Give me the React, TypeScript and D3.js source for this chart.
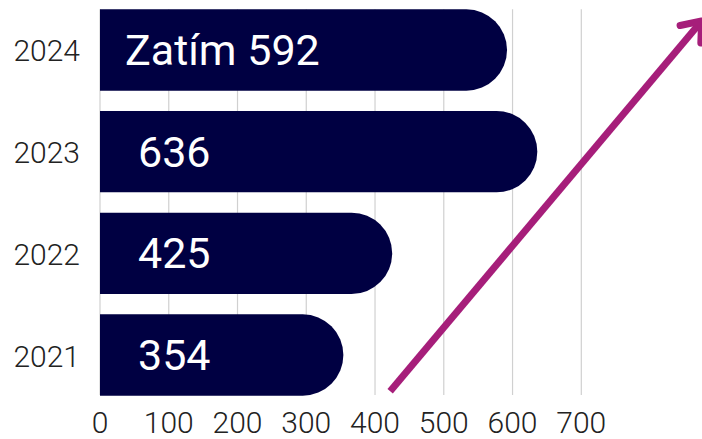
import React from "react";
import * as d3 from "d3";

const years = ["2024", "2023", "2022", "2021"];
const values = [592, 636, 425, 354];
const labels = ["Zatím 592", "636", "425", "354"];
const xTicks = [0, 100, 200, 300, 400, 500, 600, 700];
// arrow annotation in data units (x) : start / end value
const arrowFrom = 422;
const arrowTo = 875;

const W = 702;
const H = 439;
const M = { left: 100, right: W - 581.3, top: 9.3, bottom: H - 395.7 };

export default function App() {
  const x = d3.scaleLinear().domain([0, 700]).range([M.left, W - M.right]);
  const y = d3
    .scaleBand<string>()
    .domain(years)
    .range([M.top, H - M.bottom])
    .paddingInner(0.2)
    .paddingOuter(0);
  const bh = y.bandwidth();
  const r = bh / 2;

  const barPath = (v: number, yr: string) => {
    const x0 = x(0);
    const x1 = x(v);
    const y0 = y(yr)!;
    const y1 = y0 + bh;
    return `M${x0},${y0}H${x1 - r}A${r},${r} 0 0 1 ${x1 - r},${y1}H${x0}Z`;
  };

  // arrow geometry
  const ax0 = x(arrowFrom);
  const ay0 = H - M.bottom - 4.5;
  const ax1 = x(arrowTo);
  const ay1 = 21;
  const ang = Math.atan2(ay0 - ay1, ax0 - ax1);
  const headLen = 22;
  const spread = (38 * Math.PI) / 180;
  const h1 = [ax1 + headLen * Math.cos(ang - spread), ay1 + headLen * Math.sin(ang - spread)];
  const h2 = [ax1 + headLen * Math.cos(ang + spread), ay1 + headLen * Math.sin(ang + spread)];
  const arrowColor = "#a61e7a";

  return (
    <svg
      width={W}
      height={H}
      style={{ position: "absolute", left: 0, top: 0, background: "#fff" }}
    >
      {xTicks.map((t) => (
        <line
          key={"g" + t}
          x1={x(t)}
          x2={x(t)}
          y1={M.top}
          y2={H - M.bottom - 0.7}
          stroke="#d0d0d0"
          strokeWidth={1.2}
        />
      ))}
      {years.map((yr, i) => (
        <path key={"b" + yr} d={barPath(values[i], yr)} fill="#000042" />
      ))}
      {years.map((yr, i) => (
        <text
          key={"l" + yr}
          x={x(0) + (i === 0 ? 25 : 38)}
          y={y(yr)! + bh / 2 + 15}
          fill="#ffffff"
          fontFamily="Roboto, sans-serif"
          fontSize={43}
        >
          {labels[i]}
        </text>
      ))}
      {years.map((yr) => (
        <text
          key={"y" + yr}
          x={80}
          y={y(yr)! + bh / 2 + 11.5}
          textAnchor="end"
          fill="#222222"
          fontFamily="Roboto, sans-serif"
          fontWeight={300}
          fontSize={30}
        >
          {yr}
        </text>
      ))}
      {xTicks.map((t) => (
        <text
          key={"x" + t}
          x={x(t)}
          y={433}
          textAnchor="middle"
          fill="#222222"
          fontFamily="Roboto, sans-serif"
          fontWeight={300}
          fontSize={30}
        >
          {t}
        </text>
      ))}
      <line
        x1={ax0}
        y1={ay0}
        x2={ax1}
        y2={ay1}
        stroke={arrowColor}
        strokeWidth={7}
        strokeLinecap="butt"
      />
      <path
        d={`M${h1[0]},${h1[1]}L${ax1},${ay1}L${h2[0]},${h2[1]}`}
        fill="none"
        stroke={arrowColor}
        strokeWidth={7}
        strokeLinecap="round"
        strokeLinejoin="round"
      />
    </svg>
  );
}
